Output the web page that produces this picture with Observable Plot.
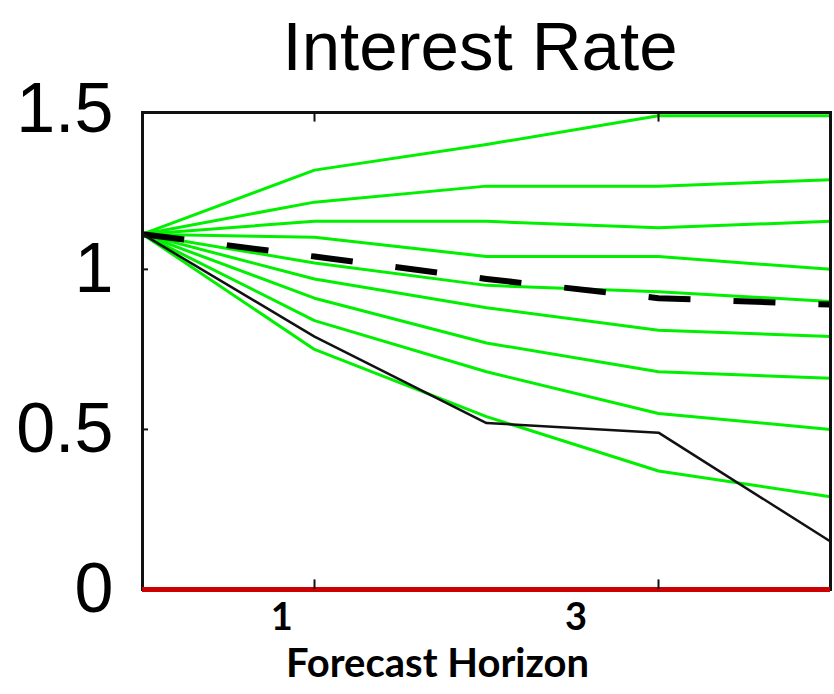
<!DOCTYPE html>
<html>
<head>
<meta charset="utf-8">
<script src="https://cdn.jsdelivr.net/npm/d3@7"></script>
<script src="https://cdn.jsdelivr.net/npm/@observablehq/plot@0.6"></script>
<style>
  html, body { margin: 0; padding: 0; background: #fff; }
  #wrap { width: 834px; height: 694px; position: relative; overflow: hidden; }
  #title {
    box-sizing: border-box; height: 88px; padding: 12px 16px 0 142px;
    font: 69px/1 "Liberation Sans", Arial, sans-serif; color: #000;
    text-align: center; white-space: nowrap;
  }
  #chart svg { display: block; overflow: visible; }
</style>
</head>
<body>
<div id="wrap">
  <div id="title">Interest Rate</div>
  <div id="chart"></div>
</div>
<script>
// Forecast horizon steps
const horizon = [0, 1, 2, 3, 4];

// Simulated interest-rate paths (green fan), top to bottom
const scenarioPaths = [
  [1.11, 1.31, 1.39, 1.48, 1.48],
  [1.11, 1.21, 1.26, 1.26, 1.28],
  [1.11, 1.15, 1.15, 1.13, 1.15],
  [1.11, 1.10, 1.04, 1.04, 1.00],
  [1.11, 1.02, 0.95, 0.93, 0.90],
  [1.11, 0.97, 0.88, 0.81, 0.79],
  [1.11, 0.91, 0.77, 0.68, 0.66],
  [1.11, 0.84, 0.68, 0.55, 0.50],
  [1.11, 0.75, 0.54, 0.37, 0.29]
];

// Realized path (solid black) and mean forecast (dashed black)
const realizedPath = [1.11, 0.79, 0.52, 0.49, 0.15];
const meanForecast = [1.11, 1.04, 0.97, 0.91, 0.89];

// Axis ticks and labels
const yTicks = [0, 0.5, 1, 1.5];
const yTickLabels = ["0", "0.5", "1", "1.5"];
const xTicks = [1, 3];
const xLabelText = ["1", "3"];
const xLabelAt = [0.81, 2.52];
const xTitle = "Forecast Horizon";

const yMax = 1.49;

const scenarioRows = scenarioPaths.flatMap((path, id) =>
  path.map((v, i) => ({h: horizon[i], v, id})));
const realizedRows = realizedPath.map((v, i) => ({h: horizon[i], v}));
const meanRows = meanForecast.map((v, i) => ({h: horizon[i], v}));

const green = "#00f000";
const labelFont = "Lato, 'Open Sans', sans-serif";

const chart = Plot.plot({
  width: 834,
  height: 606,
  marginTop: 24,
  marginBottom: 105,
  marginLeft: 142,
  marginRight: 4,
  x: {domain: [0, 4], axis: null},
  y: {domain: [0, yMax], axis: null},
  marks: [
    Plot.line(scenarioRows, {x: "h", y: "v", z: "id", stroke: green, strokeWidth: 3}),
    Plot.line(meanRows, {x: "h", y: "v", stroke: "#000", strokeWidth: 6,
      strokeDasharray: "42,43", strokeLinecap: "butt"}),
    Plot.line(realizedRows, {x: "h", y: "v", stroke: "#111", strokeWidth: 2.5}),
    Plot.frame({stroke: "#111", strokeWidth: 3}),
    Plot.ruleY([0], {stroke: "#cc0000", strokeWidth: 5}),
    // inward tick marks
    Plot.ruleX(xTicks, {y1: 0, y2: 0.03, stroke: "#111", strokeWidth: 2}),
    Plot.ruleX(xTicks, {y1: yMax - 0.03, y2: yMax, stroke: "#111", strokeWidth: 2}),
    Plot.ruleY([0.5, 1], {x1: 0, x2: 0.035, stroke: "#111", strokeWidth: 2}),
    Plot.axisY(yTicks, {
      label: null, tickSize: 0, tickPadding: 29,
      tickFormat: d => yTickLabels[yTicks.indexOf(d)],
      fontSize: 70, fontFamily: "'Liberation Sans', Arial, sans-serif", fill: "#000"
    }),
    Plot.text(xLabelAt, {
      x: d => d, text: (d, i) => xLabelText[i], frameAnchor: "bottom", dy: 40,
      fontSize: 38, fontWeight: "bold", fontFamily: labelFont, fill: "#000"
    }),
    Plot.text([xTitle], {
      text: d => d, frameAnchor: "bottom", dx: -49, dy: 87,
      fontSize: 40, fontWeight: "bold", fontFamily: labelFont, fill: "#000"
    })
  ]
});

document.getElementById("chart").appendChild(chart);
</script>
</body>
</html>
